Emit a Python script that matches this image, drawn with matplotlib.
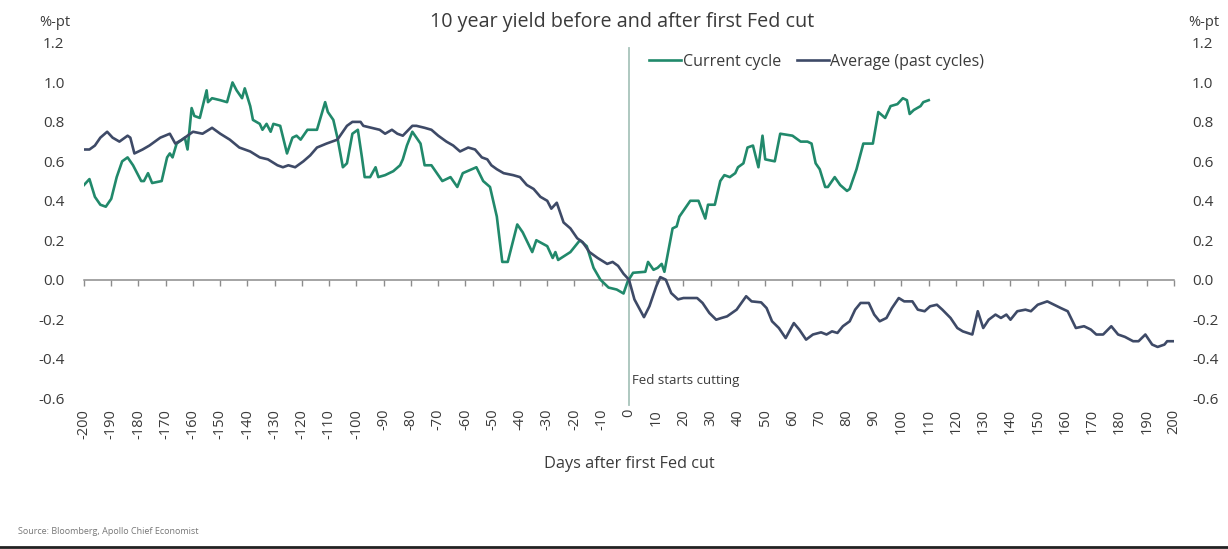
import matplotlib
matplotlib.use("Agg")
import matplotlib.pyplot as plt
from matplotlib.lines import Line2D

plt.rcParams['font.family'] = ['Open Sans', 'DejaVu Sans']
plt.rcParams['axes.unicode_minus'] = False

GREEN = '#21896b'
NAVY = '#3e4a67'
TEXT = '#3a3a3a'

# current cycle (green)
cur_days = [-200, -198, -196, -194, -192, -190, -188, -186, -184, -182, -179, -178,
            -176.5, -175, -171.5, -169.5, -168.5, -167.5, -166, -165, -163, -162,
            -160.5, -159.5, -157.5, -155, -154.5, -153, -150, -147.5, -145.5, -144,
            -142, -141, -139, -138, -135.5, -134.5, -133, -131.5, -130.5, -128,
            -125.5, -123.5, -122, -120.5, -118, -114.5, -111.5, -110.5, -108.5, -107,
            -105, -103.5, -101.5, -99.5, -98, -97, -95, -93, -92, -89.5, -86.5, -84,
            -83, -81.5, -79.5, -76.5, -75, -72.5, -68.5, -65.5, -63, -61, -56, -53.5,
            -51, -48.5, -46.5, -44.5, -41, -39, -35.5, -34, -30, -28, -27, -26, -21.5,
            -18, -15.5, -13, -10.5, -7.5, -4.5, -2, -0.5, 1.5, 6, 7, 9, 10.5, 12, 13,
            16, 17.5, 18.5, 20.5, 22.5, 25.5, 28, 29, 31.5, 33.5, 35, 37, 39, 40, 42,
            43.5, 45.5, 47.5, 49, 50, 53.5, 55.5, 60, 63, 65.5, 67, 68.5, 70, 72, 73,
            75.5, 77.5, 80, 81, 83.5, 86, 89.5, 91.5, 94, 96, 98.5, 100.5, 102, 103,
            104.5, 107, 108, 110]
cur_vals = [0.48, 0.51, 0.42, 0.38, 0.37, 0.41, 0.52, 0.60, 0.62, 0.58, 0.50, 0.50,
            0.54, 0.49, 0.50, 0.62, 0.64, 0.62, 0.69, 0.70, 0.72, 0.66,
            0.87, 0.83, 0.82, 0.96, 0.90, 0.92, 0.91, 0.90, 1.00, 0.96,
            0.92, 0.97, 0.88, 0.81, 0.79, 0.76, 0.79, 0.75, 0.79, 0.78,
            0.64, 0.72, 0.73, 0.71, 0.76, 0.76, 0.90, 0.85, 0.81, 0.72,
            0.57, 0.59, 0.74, 0.76, 0.62, 0.52, 0.52, 0.57, 0.52, 0.53, 0.55, 0.58,
            0.61, 0.68, 0.75, 0.69, 0.58, 0.58, 0.50, 0.52, 0.47, 0.54, 0.57, 0.50,
            0.47, 0.32, 0.09, 0.09, 0.28, 0.24, 0.14, 0.20, 0.17, 0.11, 0.14, 0.10, 0.14,
            0.20, 0.17, 0.06, 0.00, -0.04, -0.05, -0.07, -0.01, 0.035, 0.04, 0.09, 0.05, 0.06, 0.08, 0.04,
            0.26, 0.27, 0.32, 0.36, 0.40, 0.40, 0.31, 0.38, 0.38, 0.50, 0.53, 0.52, 0.54, 0.57, 0.59,
            0.67, 0.68, 0.57, 0.73, 0.61, 0.60, 0.74, 0.73, 0.70, 0.70, 0.69, 0.59, 0.56, 0.47, 0.47,
            0.52, 0.48, 0.45, 0.46, 0.56, 0.69, 0.69, 0.85, 0.82, 0.88, 0.89, 0.92, 0.91, 0.84,
            0.86, 0.88, 0.90, 0.91]

# average of past cycles (navy)
avg_days = [-200, -198, -196, -194, -191.5, -189.5, -187, -184, -183, -181.5, -178.5,
            -176, -172, -168.5, -166.5, -164, -162, -160, -156.5, -153, -150, -146.5,
            -143, -139, -135.5, -132.5, -129, -127, -125, -122.5, -119.5, -117, -114.5,
            -111, -107, -103.5, -101.5, -98.5, -97.5, -94.5, -91.5, -89.5, -87, -85,
            -83, -79.5, -78, -75, -72.5, -70, -67, -64.5, -62, -59, -56.5, -54, -52,
            -50.5, -48.5, -46, -42.5, -40, -37.5, -35, -32.5, -30, -28.5, -26.5, -24,
            -21.5, -19, -17, -14.5, -11.5, -8, -6, -4, -2, 0, 2, 5.5, 7.5, 10, 11.5,
            13.5, 15.5, 18, 20, 25, 27, 29.5, 32, 34, 36, 39.5, 43, 45, 48.5, 50.5,
            52.5, 55, 57.5, 60.5, 62.5, 65, 67.5, 70.5, 72.5, 74.5, 76.5, 78.5, 81,
            83, 85, 88, 90, 92, 94.5, 96.5, 99, 101, 104, 106, 108.5, 110.5, 113, 115,
            118, 120.5, 122.5, 126, 128, 130, 132, 134.5, 136.5, 138.5, 140, 142.5,
            145.5, 147.5, 150, 153.5, 156, 158.5, 161, 164, 167, 169.5, 171.5, 174,
            177, 179.5, 182, 185, 187, 189.5, 192, 194, 196.5, 197.5, 200]
avg_vals = [0.66, 0.66, 0.68, 0.72, 0.75, 0.72, 0.70, 0.73, 0.72, 0.64, 0.66,
            0.68, 0.72, 0.74, 0.69, 0.71, 0.73, 0.75, 0.74, 0.77, 0.74, 0.71,
            0.67, 0.65, 0.62, 0.61, 0.58, 0.57, 0.58, 0.57, 0.60, 0.63, 0.67,
            0.69, 0.71, 0.78, 0.80, 0.80, 0.78, 0.77, 0.76, 0.74, 0.76, 0.74,
            0.73, 0.78, 0.78, 0.77, 0.76, 0.73, 0.70, 0.68, 0.65, 0.67, 0.66, 0.62, 0.61,
            0.58, 0.56, 0.54, 0.53, 0.52, 0.48, 0.46, 0.42, 0.40, 0.36, 0.39, 0.29,
            0.26, 0.21, 0.19, 0.14, 0.11, 0.08, 0.09, 0.07, 0.03, 0.00, -0.10, -0.19, -0.135, -0.034, 0.013,
            0.0, -0.068, -0.10, -0.093, -0.093, -0.118, -0.169, -0.203, -0.194, -0.186, -0.152, -0.084, -0.110, -0.115, -0.144,
            -0.211, -0.245, -0.296, -0.22, -0.253, -0.304, -0.278, -0.267, -0.278, -0.262, -0.27, -0.236, -0.211,
            -0.152, -0.118, -0.118, -0.177, -0.211, -0.194, -0.144, -0.093, -0.110, -0.110, -0.152, -0.16, -0.135, -0.127, -0.152,
            -0.194, -0.245, -0.262, -0.278, -0.16, -0.245, -0.203, -0.177, -0.194, -0.177, -0.203, -0.16,
            -0.152, -0.16, -0.127, -0.110, -0.127, -0.144, -0.16, -0.245, -0.236, -0.253, -0.278, -0.278,
            -0.236, -0.278, -0.29, -0.312, -0.312, -0.278, -0.329, -0.341, -0.329, -0.312, -0.312]

x_ticks = list(range(-200, 201, 10))
y_ticks = [-0.6, -0.4, -0.2, 0.0, 0.2, 0.4, 0.6, 0.8, 1.0, 1.2]

fig = plt.figure(figsize=(12.28, 5.49), dpi=100)
ax = fig.add_axes([0.0684, 0.275, 0.8876, 0.6467])

ax.plot(cur_days, cur_vals, color=GREEN, lw=1.9, label='Current cycle', zorder=3)
ax.plot(avg_days, avg_vals, color=NAVY, lw=1.9, label='Average (past cycles)', zorder=3)
ax.axvline(0, ymin=-0.02, ymax=0.985, color='#a8c4bb', lw=1.3, zorder=1, clip_on=False)
ax.text(1.2, -0.51, 'Fed starts cutting', fontsize=9.5, color=TEXT, ha='left', va='center')

ax.set_xlim(-200, 200)
ax.set_ylim(-0.6, 1.2)
for s in ['left', 'right', 'top']:
    ax.spines[s].set_visible(False)
ax.spines['bottom'].set_position(('data', 0))
ax.spines['bottom'].set_color('#8c8c8c')
ax.spines['bottom'].set_linewidth(1.1)

ax.set_xticks(x_ticks)
ax.set_xticklabels([str(t) for t in x_ticks], rotation=90)
ax.tick_params(axis='x', direction='out', length=4, width=1, color='#8c8c8c',
               pad=89, labelsize=10.5, labelcolor=TEXT)
ax.set_yticks(y_ticks)
ax.set_yticklabels(['%.1f' % v for v in y_ticks])
ax.tick_params(axis='y', length=0, pad=14, labelsize=11, labelcolor=TEXT)

ax2 = ax.twinx()
ax2.set_ylim(-0.6, 1.2)
ax2.set_yticks(y_ticks)
ax2.set_yticklabels(['%.1f' % v for v in y_ticks])
ax2.tick_params(axis='y', length=0, pad=13, labelsize=11, labelcolor=TEXT)
for s in ax2.spines.values():
    s.set_visible(False)

ax.legend(loc='center left', bbox_to_anchor=(649 / 1228, 1 - 62 / 549),
          bbox_transform=fig.transFigure, ncol=2, frameon=False, fontsize=11.5,
          handlelength=2.0, handletextpad=0.1, columnspacing=1.0,
          borderpad=0, borderaxespad=0, labelcolor=TEXT)

fig.text(622 / 1228, 1 - 22 / 549, '10 year yield before and after first Fed cut',
         ha='center', va='center', fontsize=14.2, color=TEXT)
fig.text(70 / 1228, 1 - 22 / 549, '%-pt', ha='right', va='center', fontsize=10.5, color=TEXT)
fig.text(1188 / 1228, 1 - 23 / 549, '%-pt', ha='left', va='center', fontsize=10.5, color=TEXT)
fig.text(629 / 1228, 1 - 464 / 549, 'Days after first Fed cut', ha='center', va='center',
         fontsize=11.7, color=TEXT)
fig.text(18 / 1228, 1 - 531 / 549, 'Source: Bloomberg, Apollo Chief Economist',
         ha='left', va='center', fontsize=6.5, color='#777777')
fig.add_artist(Line2D([0, 1], [0.004, 0.004], transform=fig.transFigure,
                      color='#222222', lw=2))

fig.savefig('out.png', dpi=100)
